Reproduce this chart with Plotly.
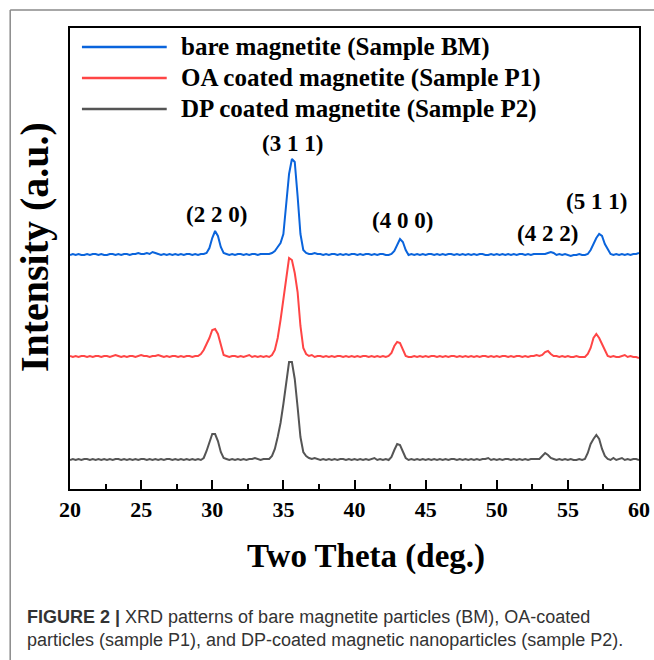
import plotly.graph_objects as go

# ---- data (2-theta scan 20..60 deg, step 0.2 deg) ----
two_theta_start = 20.0
two_theta_step = 0.2

series_names = [
    "bare magnetite (Sample BM)",
    "OA coated magnetite (Sample P1)",
    "DP coated magnetite (Sample P2)",
]
series_colors = ["#0a64dc", "#ff4545", "#555555"]
series_offsets = [233, 131, 28]  # vertical stacking offsets (a.u.)

bm_intensity = [
    1, 2, 1, 2, 1, 1, 2, 1, 2, 2,
    1, 2, 1, 1, 2, 2, 1, 2, 1, 2,
    2, 1, 2, 2, 3, 2, 2, 3, 2, 4,
    3, 2, 1, 2, 1, 2, 1, 2, 1, 2,
    1, 2, 2, 1, 2, 1, 2, 2, 3, 8,
    18, 25, 20, 9, 3, 2, 1, 2, 1, 2,
    2, 1, 2, 1, 2, 2, 1, 2, 2, 2,
    2, 3, 5, 9, 13, 22, 50, 82, 97, 94,
    60, 22, 6, 3, 2, 2, 3, 2, 2, 1,
    2, 1, 2, 2, 1, 2, 1, 2, 1, 2,
    2, 1, 2, 1, 2, 2, 1, 2, 1, 2,
    2, 1, 1, 2, 5, 11, 17, 14, 6, 1,
    2, 1, 2, 1, 2, 1, 2, 2, 1, 2,
    1, 2, 1, 2, 2, 1, 2, 1, 2, 1,
    2, 1, 2, 1, 2, 2, 1, 1, 2, 1,
    2, 1, 2, 1, 2, 1, 2, 1, 2, 2,
    1, 2, 1, 2, 2, 2, 2, 2, 3, 4,
    3, 1, 2, 1, 2, 1, 0, 1, 1, 2,
    1, 1, 2, 6, 12, 18, 22, 20, 12, 7,
    2, 1, 2, 1, 2, 1, 2, 1, 2, 2,
    3,
]

p1_intensity = [
    2, 1, 2, 1, 2, 2, 1, 2, 1, 2,
    2, 1, 2, 2, 1, 2, 3, 2, 1, 2,
    1, 2, 2, 1, 2, 3, 2, 2, 1, 2,
    2, 3, 2, 1, 2, 1, 2, 2, 1, 2,
    1, 2, 2, 1, 2, 2, 4, 8, 14, 20,
    28, 29, 24, 14, 3, 2, 1, 2, 2, 1,
    2, 1, 2, 3, 1, 2, 1, 2, 1, 2,
    1, 3, 8, 20, 38, 58, 82, 100, 98, 85,
    66, 32, 10, 4, 2, 3, 1, 2, 2, 1,
    2, 1, 2, 1, 2, 2, 1, 2, 1, 2,
    1, 2, 1, 2, 2, 1, 2, 1, 2, 1,
    2, 1, 2, 5, 12, 16, 15, 8, 2, 1,
    1, 2, 1, 2, 1, 2, 1, 2, 2, 1,
    2, 1, 2, 1, 2, 2, 1, 2, 1, 2,
    1, 2, 1, 2, 1, 2, 2, 1, 2, 1,
    2, 1, 2, 2, 1, 2, 1, 2, 2, 1,
    2, 1, 2, 2, 3, 2, 3, 6, 7, 4,
    2, 2, 1, 2, 1, 2, 1, 1, 2, 1,
    1, 1, 4, 10, 20, 24, 20, 13, 8, 2,
    1, 2, 1, 1, 2, 3, 1, 2, 1, 1,
    0,
]

p2_intensity = [
    1, 2, 1, 2, 1, 2, 2, 1, 2, 1,
    2, 1, 2, 1, 2, 1, 2, 2, 1, 2,
    1, 2, 1, 2, 1, 2, 2, 1, 2, 1,
    2, 1, 2, 1, 2, 2, 1, 2, 1, 2,
    1, 2, 1, 2, 1, 2, 1, 3, 10, 18,
    27, 27, 20, 9, 3, 2, 1, 2, 1, 2,
    1, 2, 1, 2, 2, 3, 2, 1, 2, 2,
    2, 5, 12, 24, 38, 57, 80, 99, 99, 82,
    54, 24, 9, 5, 3, 2, 3, 2, 1, 2,
    1, 2, 1, 2, 1, 2, 2, 1, 2, 1,
    2, 1, 2, 1, 2, 1, 2, 3, 1, 2,
    1, 2, 1, 4, 11, 17, 16, 9, 3, 1,
    2, 1, 2, 1, 2, 1, 2, 1, 2, 1,
    2, 1, 2, 1, 2, 2, 1, 2, 1, 2,
    1, 2, 1, 2, 1, 2, 2, 3, 1, 2,
    1, 2, 1, 2, 2, 1, 2, 1, 2, 1,
    2, 1, 2, 2, 2, 2, 5, 8, 6, 3,
    2, 1, 2, 1, 2, 1, 2, 1, 1, 2,
    1, 2, 8, 17, 22, 26, 22, 12, 5, 2,
    1, 3, 1, 2, 3, 1, 2, 1, 2, 2,
    1,
]

peak_labels = ["(2 2 0)", "(3 1 1)", "(4 0 0)", "(4 2 2)", "(5 1 1)"]
x_ticks = [20, 25, 30, 35, 40, 45, 50, 55, 60]
x_title = "Two Theta (deg.)"
y_title = "Intensity (a.u.)"

# ---- layout positions (not data) ----
peak_label_pos = [(30.3, 275), (35.62, 346), (43.4, 269), (53.56, 256), (57.0, 288)]

SERIF = "Liberation Serif"
SANS = "Liberation Sans"

fig = go.Figure()
all_series = [bm_intensity, p1_intensity, p2_intensity]
for name, vals, col, off in zip(series_names, all_series, series_colors, series_offsets):
    fig.add_trace(go.Scatter(
        x0=two_theta_start, dx=two_theta_step,
        y=[v + off for v in vals],
        mode="lines", name=name,
        line=dict(color=col, width=2),
        showlegend=False,
    ))

annotations = []
for lab, (px, py) in zip(peak_labels, peak_label_pos):
    annotations.append(dict(
        x=px, y=py, xref="x", yref="y", text=lab, showarrow=False,
        font=dict(family=SERIF, size=23, color="black", weight="bold"),
        xanchor="center", yanchor="middle",
    ))

# manual legend (long line samples like the original)
shapes = []
legend_rows = [0.9588, 0.8915, 0.8243]
for name, col, ly in zip(series_names, series_colors, legend_rows):
    shapes.append(dict(type="line", xref="paper", yref="paper",
                       x0=0.021, x1=0.170, y0=ly, y1=ly,
                       line=dict(color=col, width=2.5)))
    annotations.append(dict(
        x=0.1909, y=ly, xref="paper", yref="paper", text=name, showarrow=False,
        font=dict(family=SERIF, size=25, color="black", weight="bold"),
        xanchor="left", yanchor="middle",
    ))

# axis titles
annotations.append(dict(
    x=0.520, y=-0.1475, xref="paper", yref="paper", text=x_title, showarrow=False,
    font=dict(family=SERIF, size=33, color="black", weight="bold"),
    xanchor="center", yanchor="middle",
))
annotations.append(dict(
    x=-0.0613, y=0.525, xref="paper", yref="paper", text=y_title, showarrow=False,
    textangle=-90,
    font=dict(family=SERIF, size=40, color="black", weight="bold"),
    xanchor="center", yanchor="middle",
))

# figure border (top and left grey lines)
shapes.append(dict(type="line", xref="paper", yref="paper",
                   x0=-0.1051, x1=1.03, y0=1.039, y1=1.039,
                   line=dict(color="#8a8a8a", width=1.5)))
shapes.append(dict(type="line", xref="paper", yref="paper",
                   x0=-0.1051, x1=-0.1051, y0=1.039, y1=-0.40,
                   line=dict(color="#8a8a8a", width=1.5)))

# caption
annotations.append(dict(
    x=-0.079, y=-0.3035, xref="paper", yref="paper", showarrow=False,
    xanchor="left", yanchor="middle", align="left",
    text="<b>FIGURE 2 |</b> XRD patterns of bare magnetite particles (BM), OA-coated<br>"
         "particles (sample P1), and DP-coated magnetic nanoparticles (sample P2).",
    font=dict(family=SANS, size=18, color="#333333"),
))

fig.update_layout(
    width=662, height=660,
    margin=dict(l=70, r=14, t=28, b=171),
    paper_bgcolor="white", plot_bgcolor="white",
    shapes=shapes, annotations=annotations,
    xaxis=dict(
        range=[20, 60], tickvals=x_ticks, ticktext=[str(t) for t in x_ticks],
        ticks="inside", ticklen=9, tickwidth=1.5, tickcolor="black",
        minor=dict(ticks="inside", ticklen=5, tickwidth=1.5, tickcolor="black", dtick=2.5, tick0=20),
        showline=True, linecolor="black", linewidth=2, mirror=True,
        showgrid=False, zeroline=False,
        tickfont=dict(family=SERIF, size=22, color="black", weight="bold"),
    ),
    yaxis=dict(
        range=[0, 461], showticklabels=False, ticks="",
        showline=True, linecolor="black", linewidth=2, mirror=True,
        showgrid=False, zeroline=False,
    ),
)

# remove the default page margin so the figure starts at the window corner
fig.write_html(
    "out.html",
    config=dict(displayModeBar=False),
    post_script=(
        "document.documentElement.style.margin='0';"
        "document.documentElement.style.overflow='hidden';"
        "document.body.style.margin='0';"
        "document.body.style.overflow='hidden';"
    ),
)
